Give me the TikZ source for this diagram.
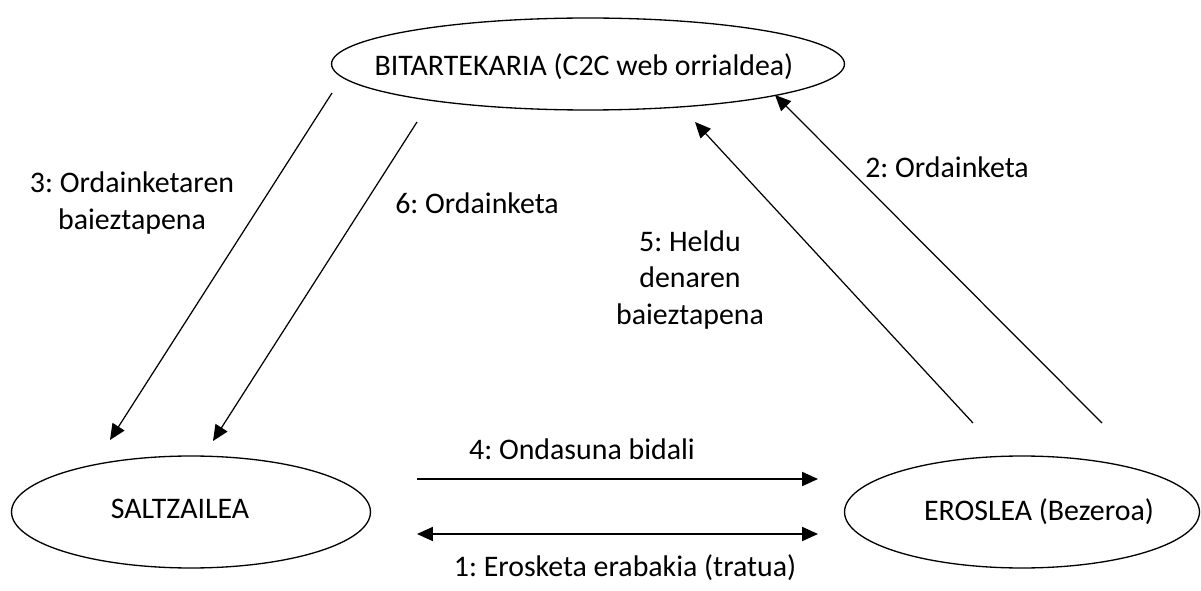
\documentclass[tikz,border=0pt]{standalone}
\usepackage{fontspec}
\setmainfont{Carlito}
\frenchspacing
\usetikzlibrary{shapes.geometric,arrows.meta}

\begin{document}
\begin{tikzpicture}[x=0.02cm,y=-0.02cm,font=\fontsize{17}{21}\selectfont,
  actor/.style={draw,ellipse,line width=0.75pt,inner sep=0pt,minimum height=2.24cm},
  msg/.style={-{Triangle[length=9pt,width=8pt]},line width=0.7pt},
  lbl/.style={align=center,inner sep=0pt}]
\useasboundingbox (0,0) rectangle (1201,591);
% the three parties
\node[actor,minimum width=10.26cm,minimum height=1.84cm] (web) at (588,64) {};
\node[lbl] (webtxt) at (584,67) {BITARTEKARIA (C2C web orrialdea)};
\node[actor,minimum width=7.18cm] (seller) at (191,512) {};
\node[lbl] (sellertxt) at (180,509) {SALTZAILEA};
\node[actor,minimum width=7.1cm] (buyer) at (1022,512) {};
\node[lbl] (buyertxt) at (1039,512) {EROSLEA (Bezeroa)};
% arrow ends
\coordinate (s3) at (332,93);  \coordinate (e3) at (110,440);
\coordinate (s6) at (417,122); \coordinate (e6) at (213,441);
\coordinate (s2) at (1102,423); \coordinate (e2) at (775,95);
\coordinate (s5) at (973,423); \coordinate (e5) at (695,122);
\coordinate (s4) at (417,479); \coordinate (e4) at (818,479);
\coordinate (s1) at (417,534); \coordinate (e1) at (818,534);
% messages
\draw[msg] (s3) -- (e3);
\draw[msg] (s6) -- (e6);
\draw[msg] (s2) -- (e2);
\draw[msg] (s5) -- (e5);
\draw[msg] (s4) -- (e4);
\draw[msg,{Triangle[length=9pt,width=8pt]}-{Triangle[length=9pt,width=8pt]}] (s1) -- (e1);
\node[lbl] (l3) at (132,203) {3: Ordainketaren\\baieztapena};
\node[lbl] (l6) at (477,203) {6: Ordainketa};
\node[lbl] (l2) at (947,167) {2: Ordainketa};
\node[lbl] (l5) at (690,280) {5: Heldu\\denaren\\baieztapena};
\node[lbl] (l4) at (582,449) {4: Ondasuna bidali};
\node[lbl] (l1) at (625,568) {1: Erosketa erabakia (tratua)};
\end{tikzpicture}
\end{document}
